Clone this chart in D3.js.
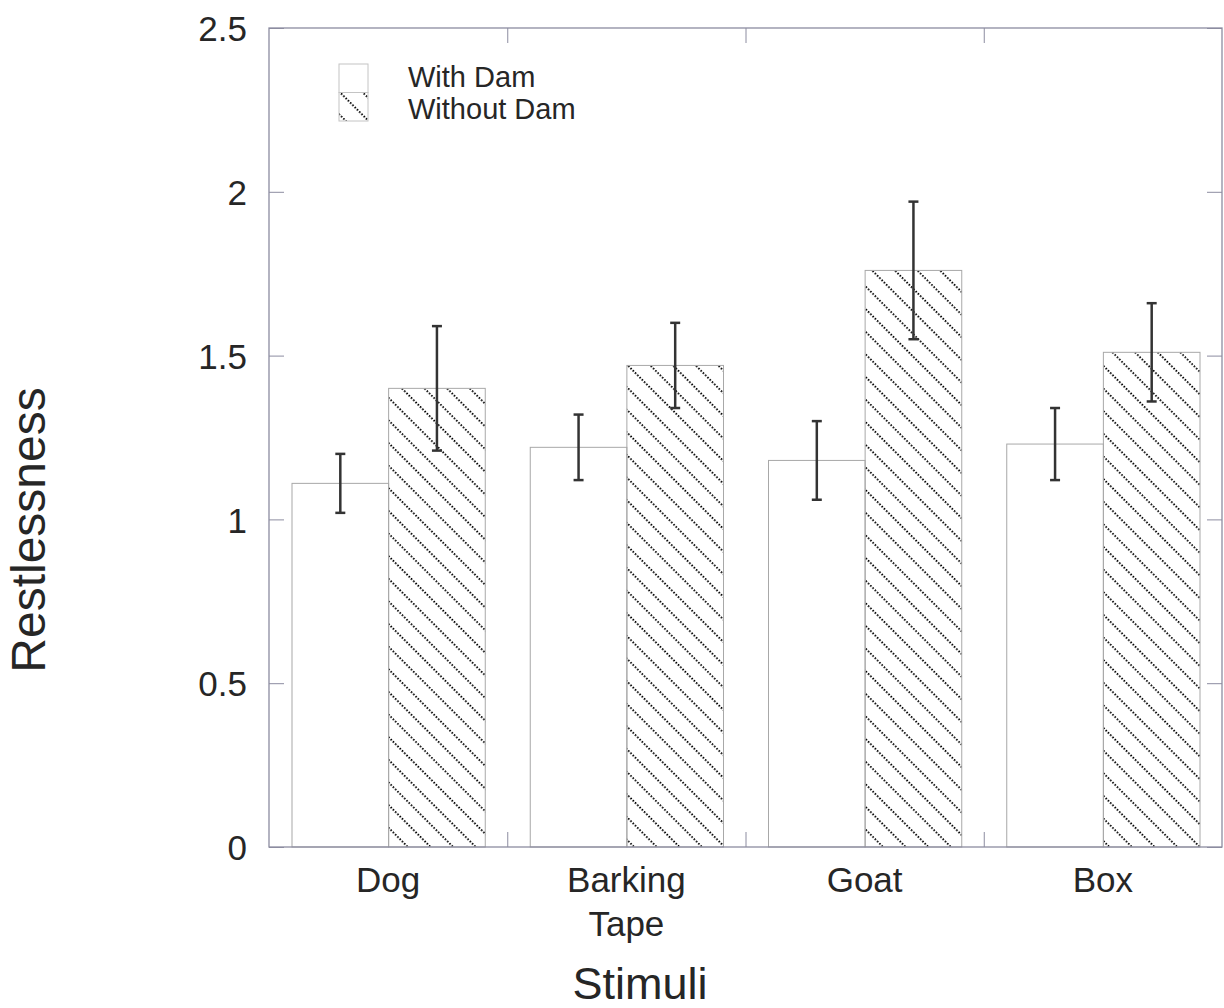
<!DOCTYPE html>
<html>
<head>
<meta charset="utf-8">
<script src="https://cdn.jsdelivr.net/npm/d3@7"></script>
<style>
  body { margin: 0; background: #fff; }
  text { font-family: "Liberation Sans", Arial, sans-serif; fill: #262626; }
</style>
</head>
<body>
<div id="chart"></div>
<script>
// data
var categories = ["Dog", "Barking\nTape", "Goat", "Box"];
var series = ["With Dam", "Without Dam"];
var withDam = [1.11, 1.22, 1.18, 1.23];
var withDamLow = [1.02, 1.12, 1.06, 1.12];
var withDamHigh = [1.20, 1.32, 1.30, 1.34];
var withoutDam = [1.40, 1.47, 1.76, 1.51];
var withoutDamLow = [1.21, 1.34, 1.55, 1.36];
var withoutDamHigh = [1.59, 1.60, 1.97, 1.66];
var yTicks = [0, 0.5, 1, 1.5, 2, 2.5];

// set the dimensions and margins of the graph
var margin = {top: 28, right: 2, bottom: 161, left: 269},
    width = 1224 - margin.left - margin.right,
    height = 1008 - margin.top - margin.bottom;

var svg = d3.select("#chart")
  .append("svg")
  .attr("width", 1224)
  .attr("height", 1008);

// hatch pattern: dotted diagonal lines
var defs = svg.append("defs");
var pat = defs.append("pattern")
  .attr("id", "hatch")
  .attr("patternUnits", "userSpaceOnUse")
  .attr("width", 3.2)
  .attr("height", 16)
  .attr("patternTransform", "rotate(45)");
pat.append("rect")
  .attr("x", 0).attr("y", 0)
  .attr("width", 1.7).attr("height", 1.7)
  .attr("fill", "#000");

var g = svg.append("g")
  .attr("transform", "translate(" + margin.left + "," + margin.top + ")");

// scales
var x0 = d3.scaleBand()
  .domain(categories)
  .range([0, width]);
var x1 = d3.scaleBand()
  .domain(series)
  .range([23, x0.bandwidth() - 22]);
var y = d3.scaleLinear()
  .domain([0, 2.5])
  .range([height, 0]);

// rows for drawing
var rows = [];
categories.forEach(function(c, i) {
  rows.push({cat: c, s: series[0], v: withDam[i], lo: withDamLow[i], hi: withDamHigh[i]});
  rows.push({cat: c, s: series[1], v: withoutDam[i], lo: withoutDamLow[i], hi: withoutDamHigh[i]});
});

// bars
g.selectAll(".bar")
  .data(rows)
  .enter()
  .append("rect")
  .attr("x", d => x0(d.cat) + x1(d.s))
  .attr("y", d => y(d.v))
  .attr("width", x1.bandwidth())
  .attr("height", d => height - y(d.v))
  .attr("fill", d => d.s === series[0] ? "#fff" : "url(#hatch)")
  .attr("stroke", "#a8a8a8")
  .attr("stroke-width", 1);

// error bars
var err = g.selectAll(".err")
  .data(rows)
  .enter()
  .append("g")
  .attr("transform", d => "translate(" + (x0(d.cat) + x1(d.s) + x1.bandwidth() / 2) + ",0)");
err.append("line")
  .attr("y1", d => y(d.lo)).attr("y2", d => y(d.hi))
  .attr("stroke", "#333").attr("stroke-width", 2.5);
err.append("line")
  .attr("x1", -5).attr("x2", 5)
  .attr("y1", d => y(d.hi)).attr("y2", d => y(d.hi))
  .attr("stroke", "#333").attr("stroke-width", 2.5);
err.append("line")
  .attr("x1", -5).attr("x2", 5)
  .attr("y1", d => y(d.lo)).attr("y2", d => y(d.lo))
  .attr("stroke", "#333").attr("stroke-width", 2.5);

// frame
var axisColor = "#8c8ca0";
g.append("rect")
  .attr("width", width).attr("height", height)
  .attr("fill", "none")
  .attr("stroke", axisColor).attr("stroke-width", 1.3);

// Y axis left (ticks inward)
var yAxis = g.append("g")
  .call(d3.axisLeft(y).tickValues(yTicks).tickSize(-15).tickPadding(22).tickFormat(d3.format("")));
yAxis.select(".domain").remove();
yAxis.selectAll("line").attr("stroke", axisColor);
yAxis.selectAll("text")
  .style("font-size", "35px")
  .attr("fill", "#262626")
  .attr("dy", "0.36em");

// Y axis right ticks
var yRight = g.append("g")
  .attr("transform", "translate(" + width + ",0)")
  .call(d3.axisRight(y).tickValues(yTicks).tickSize(-15).tickFormat(""));
yRight.select(".domain").remove();
yRight.selectAll("line").attr("stroke", axisColor);

// group boundary ticks (bottom and top)
var bounds = categories.slice(1).map(c => x0(c));
var xb = d3.scaleLinear().domain([0, width]).range([0, width]);
var xBottom = g.append("g")
  .attr("transform", "translate(0," + height + ")")
  .call(d3.axisBottom(xb).tickValues(bounds).tickSize(-15).tickFormat(""));
xBottom.select(".domain").remove();
xBottom.selectAll("line").attr("stroke", axisColor);
var xTop = g.append("g")
  .call(d3.axisTop(xb).tickValues(bounds).tickSize(-15).tickFormat(""));
xTop.select(".domain").remove();
xTop.selectAll("line").attr("stroke", axisColor);

// category labels
var labels = g.selectAll(".cat")
  .data(categories)
  .enter()
  .append("text")
  .attr("text-anchor", "middle")
  .attr("x", d => x0(d) + x0.bandwidth() / 2)
  .attr("y", height + 45)
  .style("font-size", "35px");
labels.selectAll("tspan")
  .data(d => d.split("\n"))
  .enter()
  .append("tspan")
  .attr("x", function() { return d3.select(this.parentNode).attr("x"); })
  .attr("dy", (d, i) => i === 0 ? 0 : 44)
  .text(d => d);

// axis titles
svg.append("text")
  .attr("x", 640).attr("y", 999)
  .attr("text-anchor", "middle")
  .style("font-size", "45px")
  .text("Stimuli");
svg.append("text")
  .attr("transform", "translate(45,530) rotate(-90)")
  .attr("text-anchor", "middle")
  .style("font-size", "48px")
  .text("Restlessness");

// legend
var legend = svg.append("g");
series.forEach(function(s, i) {
  legend.append("rect")
    .attr("x", 339).attr("y", 64 + i * 28.5)
    .attr("width", 29).attr("height", 28.5)
    .attr("fill", i === 0 ? "#fff" : "url(#hatch)")
    .attr("stroke", "#c4c4c4").attr("stroke-width", 1);
  legend.append("text")
    .attr("x", 408).attr("y", 87 + i * 32)
    .style("font-size", "29px")
    .text(s);
});
</script>
</body>
</html>
